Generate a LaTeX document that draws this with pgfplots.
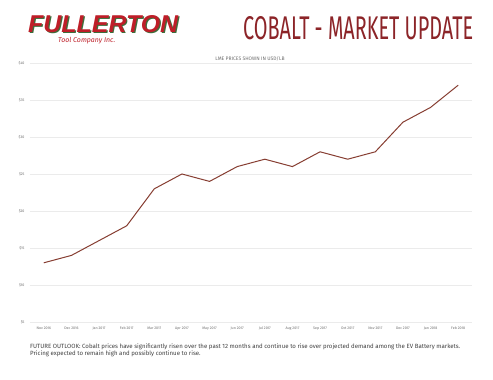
\documentclass[border=0pt]{standalone}
\usepackage{fontspec}
\setmainfont{Fira Sans}
\newfontfamily\logofont{Liberation Sans}
\usepackage{pgfplots}
\pgfplotsset{compat=1.18}
\definecolor{line}{RGB}{135,62,50}
\definecolor{titlered}{RGB}{140,36,40}
\definecolor{logored}{RGB}{190,30,40}
\definecolor{logogreen}{RGB}{60,110,60}
\definecolor{ticktxt}{RGB}{110,110,110}
\begin{document}
\begin{tikzpicture}[x=1pt,y=1pt]
\fill[white] (0,0) rectangle (493,380);
% logo
\node[anchor=west,inner sep=0,text=logogreen] at (29.2,355.2) {\resizebox{150pt}{17pt}{\logofont\bfseries\itshape FULLERTON}};
\node[anchor=west,inner sep=0,text=logored] at (28,356) {\resizebox{150pt}{17pt}{\logofont\bfseries\itshape FULLERTON}};
\node[anchor=west,inner sep=0,text=logored] at (58,339) {\resizebox{57pt}{!}{\itshape Tool Company Inc.}};
% title
\node[anchor=south west,inner sep=0,text=titlered] at (243,340) {\resizebox{230pt}{23pt}{COBALT - MARKET UPDATE}};
% subtitle
\node[inner sep=0,text=ticktxt] at (250,321) {\fontsize{5}{6}\selectfont LME PRICES SHOWN IN USD/LB};
\begin{axis}[
  at={(30pt,58pt)}, anchor=south west,
  scale only axis, width=442pt, height=259pt,
  xmin=-0.5, xmax=15.5, ymin=5, ymax=40,
  axis line style={draw=none},
  ytick={5,10,15,20,25,30,35,40},
  yticklabel={\$\pgfmathprintnumber{\tick}},
  xtick={0,...,15},
  xticklabels={Nov 2016,Dec 2016,Jan 2017,Feb 2017,Mar 2017,Apr 2017,May 2017,Jun 2017,Jul 2017,Aug 2017,Sep 2017,Oct 2017,Nov 2017,Dec 2017,Jan 2018,Feb 2018},
  major tick length=0pt,
  ymajorgrids, grid style={draw=black!8, line width=0.5pt},
  tick label style={font=\fontsize{3.6}{4}\selectfont, text=ticktxt},
  /pgf/number format/assume math mode=true,
  yticklabel style={xshift=-2pt},
  xticklabel style={yshift=-1pt},
]
\addplot[line, line width=1pt, mark=none] coordinates {
(0,13) (1,14) (2,16) (3,18) (4,23) (5,25) (6,24) (7,26) (8,27) (9,26) (10,28) (11,27) (12,28) (13,32) (14,34) (15,37)
};
\end{axis}
% footer
\node[anchor=north west,inner sep=0,text=black!75] at (30,37) {\resizebox{430pt}{!}{\begin{tabular}{@{}l@{}}FUTURE OUTLOOK: Cobalt prices have significantly risen over the past 12 months and continue to rise over projected demand among the EV Battery markets.\\[-1pt] Pricing expected to remain high and possibly continue to rise.\end{tabular}}};
\end{tikzpicture}
\end{document}
